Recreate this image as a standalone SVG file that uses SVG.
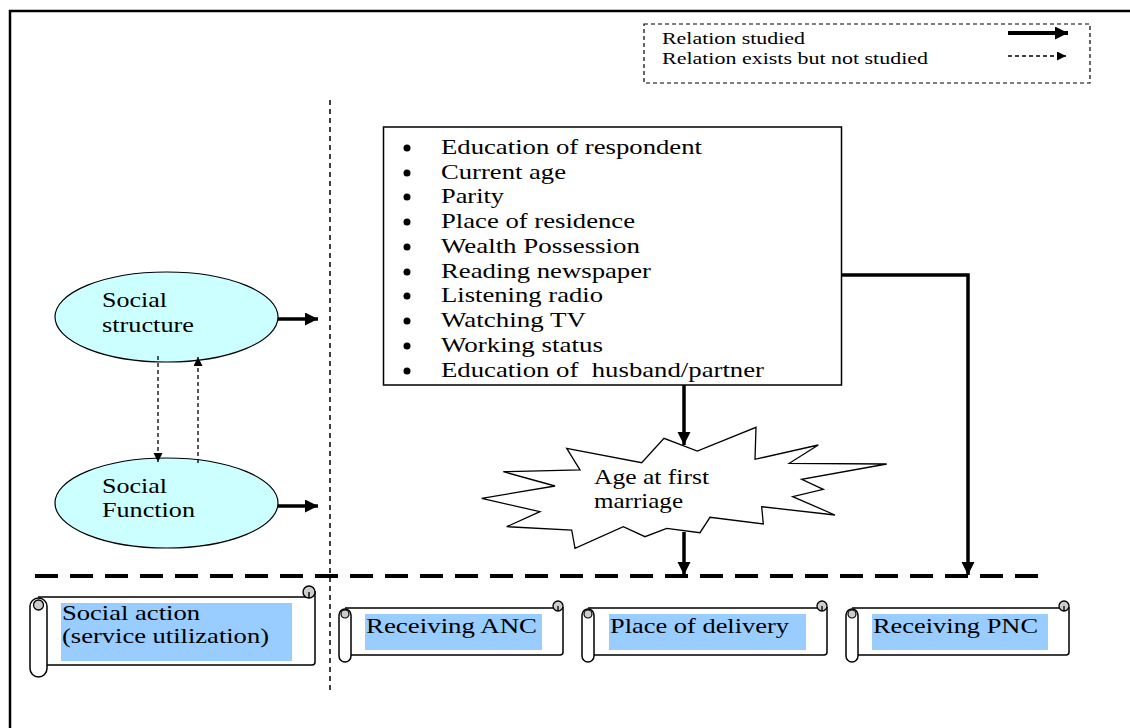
<svg xmlns="http://www.w3.org/2000/svg" width="1130" height="728" viewBox="0 0 1130 728">
<style>
text{font-family:"Liberation Serif","Times New Roman",serif;fill:#000;}
.t{font-size:21px;}
.lg{font-size:17px;}
.ell{fill:#CCFFFF;stroke:#000;stroke-width:1.2;}
.hl{fill:#99CCFF;}
.sc{fill:#fff;stroke:#000;stroke-width:1.5;stroke-linejoin:round;}
.thick{fill:none;stroke:#000;stroke-width:3.5;}
.thin{fill:none;stroke:#000;stroke-width:1.3;stroke-dasharray:4 3;}
</style>
<defs>
<marker id="ah" markerUnits="userSpaceOnUse" markerWidth="14" markerHeight="14" refX="13" refY="6.5" orient="auto">
<path d="M0,0 L13,6.5 L0,13 Z" fill="#000"/>
</marker>
<marker id="ahs" markerUnits="userSpaceOnUse" markerWidth="10" markerHeight="10" refX="9" refY="4.5" orient="auto">
<path d="M0,0 L9,4.5 L0,9 Z" fill="#000"/>
</marker>
</defs>
<rect width="1130" height="728" fill="#fff"/>
<!-- frame -->
<path d="M10,728 L10,11 L1130,11" fill="none" stroke="#000" stroke-width="2.5"/>
<!-- legend -->
<g id="legend">
<rect x="644" y="24" width="446" height="59" fill="none" stroke="#000" stroke-width="1.2" stroke-dasharray="4 3"/>
<text class="lg" x="662" y="44" textLength="143" lengthAdjust="spacingAndGlyphs">Relation studied</text>
<text class="lg" x="662" y="64" textLength="266" lengthAdjust="spacingAndGlyphs">Relation exists but not studied</text>
<line x1="1008" y1="33" x2="1068" y2="33" stroke="#000" stroke-width="4" marker-end="url(#ah)"/>
<line x1="1008" y1="56" x2="1066" y2="56" class="thin" marker-end="url(#ahs)"/>
</g>
<!-- dividers -->
<line x1="330" y1="100" x2="330" y2="692" stroke="#000" stroke-width="1.5" stroke-dasharray="5 4"/>
<line x1="35" y1="576" x2="1045" y2="576" stroke="#000" stroke-width="4" stroke-dasharray="23 12"/>
<!-- nodes -->
<g id="social-structure">
<ellipse class="ell" cx="166.5" cy="317" rx="111.5" ry="45"/>
<text class="t" x="102" y="307" textLength="65" lengthAdjust="spacingAndGlyphs">Social</text>
<text class="t" x="102" y="332" textLength="92" lengthAdjust="spacingAndGlyphs">structure</text>
</g>
<g id="social-function">
<ellipse class="ell" cx="166.5" cy="503" rx="111.5" ry="45"/>
<text class="t" x="102" y="493" textLength="65" lengthAdjust="spacingAndGlyphs">Social</text>
<text class="t" x="102" y="517" textLength="93" lengthAdjust="spacingAndGlyphs">Function</text>
</g>
<g id="factors">
<rect x="383.5" y="127" width="458" height="258" fill="#fff" stroke="#000" stroke-width="1.5"/>
<g fill="#000">
<circle cx="407" cy="148" r="3.5"/><circle cx="407" cy="173" r="3.5"/><circle cx="407" cy="197" r="3.5"/>
<circle cx="407" cy="222" r="3.5"/><circle cx="407" cy="247" r="3.5"/><circle cx="407" cy="272" r="3.5"/>
<circle cx="407" cy="296" r="3.5"/><circle cx="407" cy="321" r="3.5"/><circle cx="407" cy="346" r="3.5"/>
<circle cx="407" cy="371" r="3.5"/>
</g>
<text class="t" x="441" y="154" textLength="261" lengthAdjust="spacingAndGlyphs">Education of respondent</text>
<text class="t" x="441" y="179" textLength="125" lengthAdjust="spacingAndGlyphs">Current age</text>
<text class="t" x="441" y="203" textLength="63" lengthAdjust="spacingAndGlyphs">Parity</text>
<text class="t" x="441" y="228" textLength="194" lengthAdjust="spacingAndGlyphs">Place of residence</text>
<text class="t" x="441" y="253" textLength="199" lengthAdjust="spacingAndGlyphs">Wealth Possession</text>
<text class="t" x="441" y="278" textLength="210" lengthAdjust="spacingAndGlyphs">Reading newspaper</text>
<text class="t" x="441" y="302" textLength="162" lengthAdjust="spacingAndGlyphs">Listening radio</text>
<text class="t" x="441" y="327" textLength="145" lengthAdjust="spacingAndGlyphs">Watching TV</text>
<text class="t" x="441" y="352" textLength="162" lengthAdjust="spacingAndGlyphs">Working status</text>
<text class="t" x="441" y="377" textLength="323" lengthAdjust="spacingAndGlyphs" style="white-space:pre">Education of  husband/partner</text>
</g>
<g id="age-first-marriage">
<polygon points="566.7,448.3 641.7,462.7 664,438.3 697.3,451 756,427.3 755,459.3 818.3,445 789.3,463.3 886.7,464 801.7,479.3 823.3,489.3 792.7,496.7 835,515 761.7,506.7 763.3,524 710,517.3 700,532.7 666.7,528.3 645,536.7 623.3,526.7 575,548.3 571.7,530 506.7,526.7 540,511.7 481.7,498.3 555,486 503.3,471.7 580,470" fill="#fff" stroke="#000" stroke-width="1.3" stroke-linejoin="miter"/>
<text class="t" x="594" y="484" textLength="115" lengthAdjust="spacingAndGlyphs">Age at first</text>
<text class="t" x="594" y="508" textLength="89" lengthAdjust="spacingAndGlyphs">marriage</text>
</g>
<g id="social-action">
<path class="sc" d="M38,597 L309,597 M315,591 L315,662 Q315,665 312,665 L47,665"/>
<circle cx="309" cy="592" r="6" fill="#ccc" stroke="#000" stroke-width="1.4"/>
<path d="M309,592 L309,598" stroke="#000" stroke-width="1.4"/>
<rect class="sc" x="30" y="598" width="17" height="79" rx="8.5"/>
<circle cx="38.5" cy="605" r="5" fill="#ccc" stroke="#000" stroke-width="1.3"/>
<rect class="hl" x="61" y="603" width="231" height="58"/>
<text class="t" x="62" y="620" textLength="138" lengthAdjust="spacingAndGlyphs">Social action</text>
<text class="t" x="62" y="643" textLength="207" lengthAdjust="spacingAndGlyphs">(service utilization)</text>
</g>
<g id="receiving-anc">
<path class="sc" d="M345,608 L558,608 M563,607 L563,652 Q563,655 560,655 L351,655"/>
<circle cx="558" cy="606" r="5" fill="#ccc" stroke="#000" stroke-width="1.3"/>
<path d="M558,606 L558,611" stroke="#000" stroke-width="1.3"/>
<rect class="sc" x="339" y="609" width="12" height="53" rx="6"/>
<circle cx="345" cy="614" r="4" fill="#ccc" stroke="#000" stroke-width="1.2"/>
<rect class="hl" x="365" y="614" width="177" height="36"/>
<text class="t" x="366" y="633" textLength="171" lengthAdjust="spacingAndGlyphs">Receiving ANC</text>
</g>
<g id="place-of-delivery">
<path class="sc" d="M588,608 L822,608 M827,607 L827,652 Q827,655 824,655 L594,655"/>
<circle cx="822" cy="606" r="5" fill="#ccc" stroke="#000" stroke-width="1.3"/>
<path d="M822,606 L822,611" stroke="#000" stroke-width="1.3"/>
<rect class="sc" x="582" y="609" width="12" height="53" rx="6"/>
<circle cx="588" cy="614" r="4" fill="#ccc" stroke="#000" stroke-width="1.2"/>
<rect class="hl" x="609" y="614" width="197" height="36"/>
<text class="t" x="610" y="633" textLength="179" lengthAdjust="spacingAndGlyphs">Place of delivery</text>
</g>
<g id="receiving-pnc">
<path class="sc" d="M852,608 L1064,608 M1069,607 L1069,652 Q1069,655 1066,655 L858,655"/>
<circle cx="1064" cy="606" r="5" fill="#ccc" stroke="#000" stroke-width="1.3"/>
<path d="M1064,606 L1064,611" stroke="#000" stroke-width="1.3"/>
<rect class="sc" x="846" y="609" width="12" height="53" rx="6"/>
<circle cx="852" cy="614" r="4" fill="#ccc" stroke="#000" stroke-width="1.2"/>
<rect class="hl" x="872" y="614" width="176" height="36"/>
<text class="t" x="873" y="633" textLength="165" lengthAdjust="spacingAndGlyphs">Receiving PNC</text>
</g>
<!-- connectors -->
<g id="connectors">
<line class="thick" x1="278" y1="319" x2="318" y2="319" marker-end="url(#ah)"/>
<line class="thick" x1="278" y1="506" x2="318" y2="506" marker-end="url(#ah)"/>
<line class="thin" x1="158" y1="356" x2="158" y2="462" marker-end="url(#ahs)"/>
<line class="thin" x1="198" y1="463" x2="198" y2="357" marker-end="url(#ahs)"/>
<line class="thick" x1="684" y1="385" x2="684" y2="445" marker-end="url(#ah)"/>
<line class="thick" x1="684" y1="532" x2="684" y2="575" marker-end="url(#ah)"/>
<path class="thick" d="M842,275 L968,275 L968,575" marker-end="url(#ah)"/>
</g>
</svg>
